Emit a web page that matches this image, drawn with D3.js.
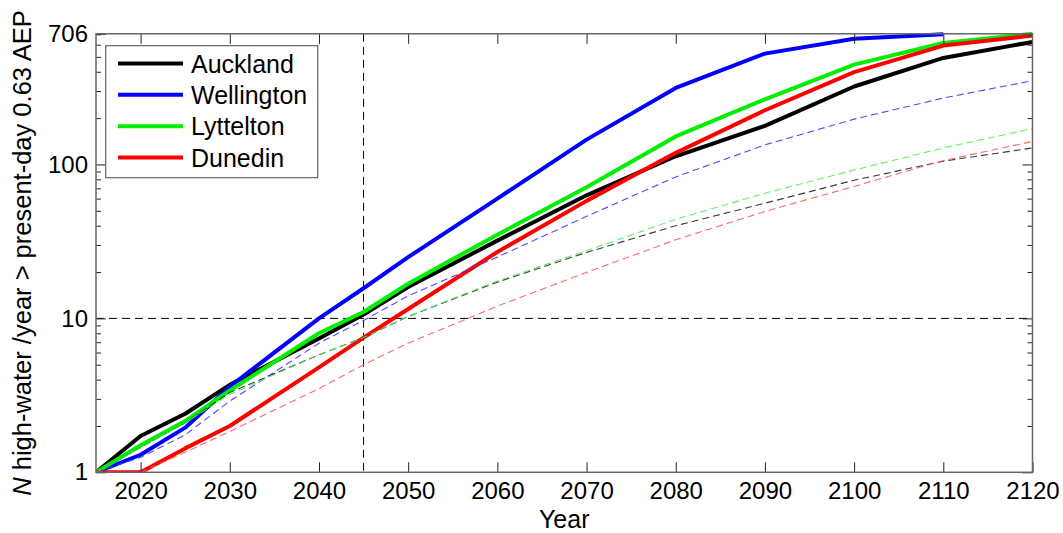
<!DOCTYPE html>
<html>
<head>
<meta charset="utf-8">
<script src="https://cdn.jsdelivr.net/npm/d3@7"></script>
<style>
  html, body { margin: 0; padding: 0; background: #fff; }
  svg { display: block; font-family: "Liberation Sans", Arial, sans-serif; }
</style>
</head>
<body>
<svg id="chart" width="1063" height="533"></svg>
<script>
// Years at which each projection is sampled
const years = [2015, 2020, 2025, 2030, 2040, 2045, 2050, 2060, 2070, 2080, 2090, 2100, 2110, 2120];

// Number of high-waters per year exceeding the present-day 0.63 AEP level (solid: main projection)
const aucklandSolid   = [1, 1.72, 2.4, 3.7, 7.4, 10.6, 16, 32, 63, 113, 178, 321, 492, 625];
const wellingtonSolid = [1, 1.3, 1.95, 3.6, 10, 15.7, 25, 60, 145, 314, 525, 656, 700, null];
const lytteltonSolid  = [1, 1.5, 2.15, 3.4, 8.0, 11, 16.8, 35, 71, 152, 265, 445, 615, 706];
const dunedinSolid    = [1, 1, 1.43, 2.0, 4.8, 7.5, 11.5, 27, 58, 119, 225, 398, 592, 687];

// Dashed companions of the same series
const aucklandDashed   = [1, 1.45, 2.1, 3.3, 5.8, 7.5, 10.3, 17.2, 26.8, 40, 56, 79, 105, 128];
const wellingtonDashed = [1, 1.25, 1.75, 2.9, 6.9, 9.7, 14, 25, 46, 83, 134, 197, 270, 350];
const lytteltonDashed  = [1, 1.45, 2.1, 3.2, 5.8, 7.5, 10.3, 17.5, 27.5, 44, 65, 92, 128, 171];
const dunedinDashed    = [1, 1, 1.35, 1.84, 3.5, 5.0, 6.9, 12, 19.9, 32.4, 49.5, 72, 106, 141];

const seriesNames = ["Auckland", "Wellington", "Lyttelton", "Dunedin"];
const xTickValues = [2020, 2030, 2040, 2050, 2060, 2070, 2080, 2090, 2100, 2110, 2120];
const yTickValues = [1, 10, 100, 706];
const yMinorValues = [2, 3, 4, 5, 6, 7, 8, 9, 20, 30, 40, 50, 60, 70, 80, 90, 200, 300, 400, 500, 600, 700];
const thresholdCount = 10;
const thresholdYear = 2045;

const series = [
  { name: seriesNames[0], solid: aucklandSolid,   dashed: aucklandDashed,   color: "#000000", dashColor: "#262626" },
  { name: seriesNames[1], solid: wellingtonSolid, dashed: wellingtonDashed, color: "#0000ff", dashColor: "#3a3aff" },
  { name: seriesNames[2], solid: lytteltonSolid,  dashed: lytteltonDashed,  color: "#00ee00", dashColor: "#4cf04c" },
  { name: seriesNames[3], solid: dunedinSolid,    dashed: dunedinDashed,    color: "#ff0000", dashColor: "#ff5a5a" }
];

const svg = d3.select("#chart");
const plotLeft = 96, plotRight = 1032.5, plotTop = 33.8, plotBottom = 472.3;

const x = d3.scaleLinear().domain([2015, 2120]).range([plotLeft, plotRight]);
const y = d3.scaleLog().domain([1, 706]).range([plotBottom, plotTop]);

svg.append("defs").append("clipPath").attr("id", "plotClip")
  .append("rect").attr("x", plotLeft).attr("y", plotTop - 2)
  .attr("width", plotRight - plotLeft).attr("height", plotBottom - plotTop + 2);

const plot = svg.append("g").attr("clip-path", "url(#plotClip)");

// Reference lines
plot.append("line")
  .attr("x1", plotLeft).attr("x2", plotRight)
  .attr("y1", y(thresholdCount)).attr("y2", y(thresholdCount))
  .attr("stroke", "#000").attr("stroke-width", 1).attr("stroke-dasharray", "8,5");
plot.append("line")
  .attr("x1", x(thresholdYear)).attr("x2", x(thresholdYear))
  .attr("y1", plotTop).attr("y2", plotBottom)
  .attr("stroke", "#000").attr("stroke-width", 1).attr("stroke-dasharray", "8,5");

const lineGen = d3.line()
  .defined(d => d.v != null)
  .x(d => x(d.year))
  .y(d => y(d.v));

const pts = arr => years.map((yr, i) => ({ year: yr, v: arr[i] }));

// Solid projections
series.forEach(s => {
  plot.append("path")
    .attr("d", lineGen(pts(s.solid)))
    .attr("fill", "none")
    .attr("stroke", s.color)
    .attr("stroke-width", 4)
    .attr("stroke-linejoin", "round");
});

// Dashed projections
series.forEach(s => {
  plot.append("path")
    .attr("d", lineGen(pts(s.dashed)))
    .attr("fill", "none")
    .attr("stroke", s.dashColor)
    .attr("stroke-width", 1.1)
    .attr("stroke-dasharray", "7,4")
    .attr("opacity", 0.9);
});

// Axes (ticks point inward on all four sides)
const tickColor = "#222";
function styleAxis(g) {
  g.select(".domain").remove();
  g.selectAll(".tick line").attr("stroke", tickColor);
  g.selectAll(".tick text").attr("fill", "#000").attr("font-size", 24)
    .attr("font-family", "'Liberation Sans', Arial, sans-serif");
}

svg.append("g").attr("transform", `translate(0,${plotBottom})`)
  .call(d3.axisBottom(x).tickValues(xTickValues).tickFormat(d3.format("d")).tickSize(-10).tickPadding(10))
  .call(styleAxis);
svg.append("g").attr("transform", `translate(0,${plotTop})`)
  .call(d3.axisTop(x).tickValues(xTickValues.filter(v => v < 2120)).tickFormat("").tickSize(-10))
  .call(styleAxis);
svg.append("g").attr("transform", `translate(${plotLeft},0)`)
  .call(d3.axisLeft(y).tickValues(yTickValues).tickFormat(d3.format("d")).tickSize(-10).tickPadding(8))
  .call(styleAxis);
svg.append("g").attr("transform", `translate(${plotLeft},0)`)
  .call(d3.axisLeft(y).tickValues(yMinorValues).tickFormat("").tickSize(-5))
  .call(styleAxis);
svg.append("g").attr("transform", `translate(${plotRight},0)`)
  .call(d3.axisRight(y).tickValues(yTickValues).tickFormat("").tickSize(-10))
  .call(styleAxis);
svg.append("g").attr("transform", `translate(${plotRight},0)`)
  .call(d3.axisRight(y).tickValues(yMinorValues).tickFormat("").tickSize(-5))
  .call(styleAxis);

// Axes box
svg.append("rect")
  .attr("x", plotLeft).attr("y", plotTop)
  .attr("width", plotRight - plotLeft).attr("height", plotBottom - plotTop)
  .attr("fill", "none").attr("stroke", "#666").attr("stroke-width", 1.5);

// Axis titles
svg.append("text")
  .attr("x", (plotLeft + plotRight) / 2).attr("y", 528)
  .attr("text-anchor", "middle").attr("font-size", 25)
  .text("Year");

const yTitle = svg.append("text")
  .attr("transform", `translate(31,${(plotTop + plotBottom) / 2}) rotate(-90)`)
  .attr("text-anchor", "middle").attr("font-size", 25.5);
yTitle.append("tspan").attr("font-style", "italic").text("N");
yTitle.append("tspan").text(" high-water /year > present-day 0.63 AEP");

// Legend
const legend = svg.append("g");
legend.append("rect")
  .attr("x", 105.7).attr("y", 45.7).attr("width", 212).attr("height", 132)
  .attr("fill", "#fff").attr("stroke", "#666").attr("stroke-width", 1.2);
const rowY = d3.scalePoint().domain(seriesNames).range([63.5, 157.5]);
series.forEach(s => {
  const ry = rowY(s.name);
  legend.append("line")
    .attr("x1", 118).attr("x2", 183).attr("y1", ry).attr("y2", ry)
    .attr("stroke", s.color).attr("stroke-width", 4);
  legend.append("text")
    .attr("x", 191).attr("y", ry).attr("dy", "0.36em")
    .attr("font-size", 25)
    .text(s.name);
});
</script>
</body>
</html>
